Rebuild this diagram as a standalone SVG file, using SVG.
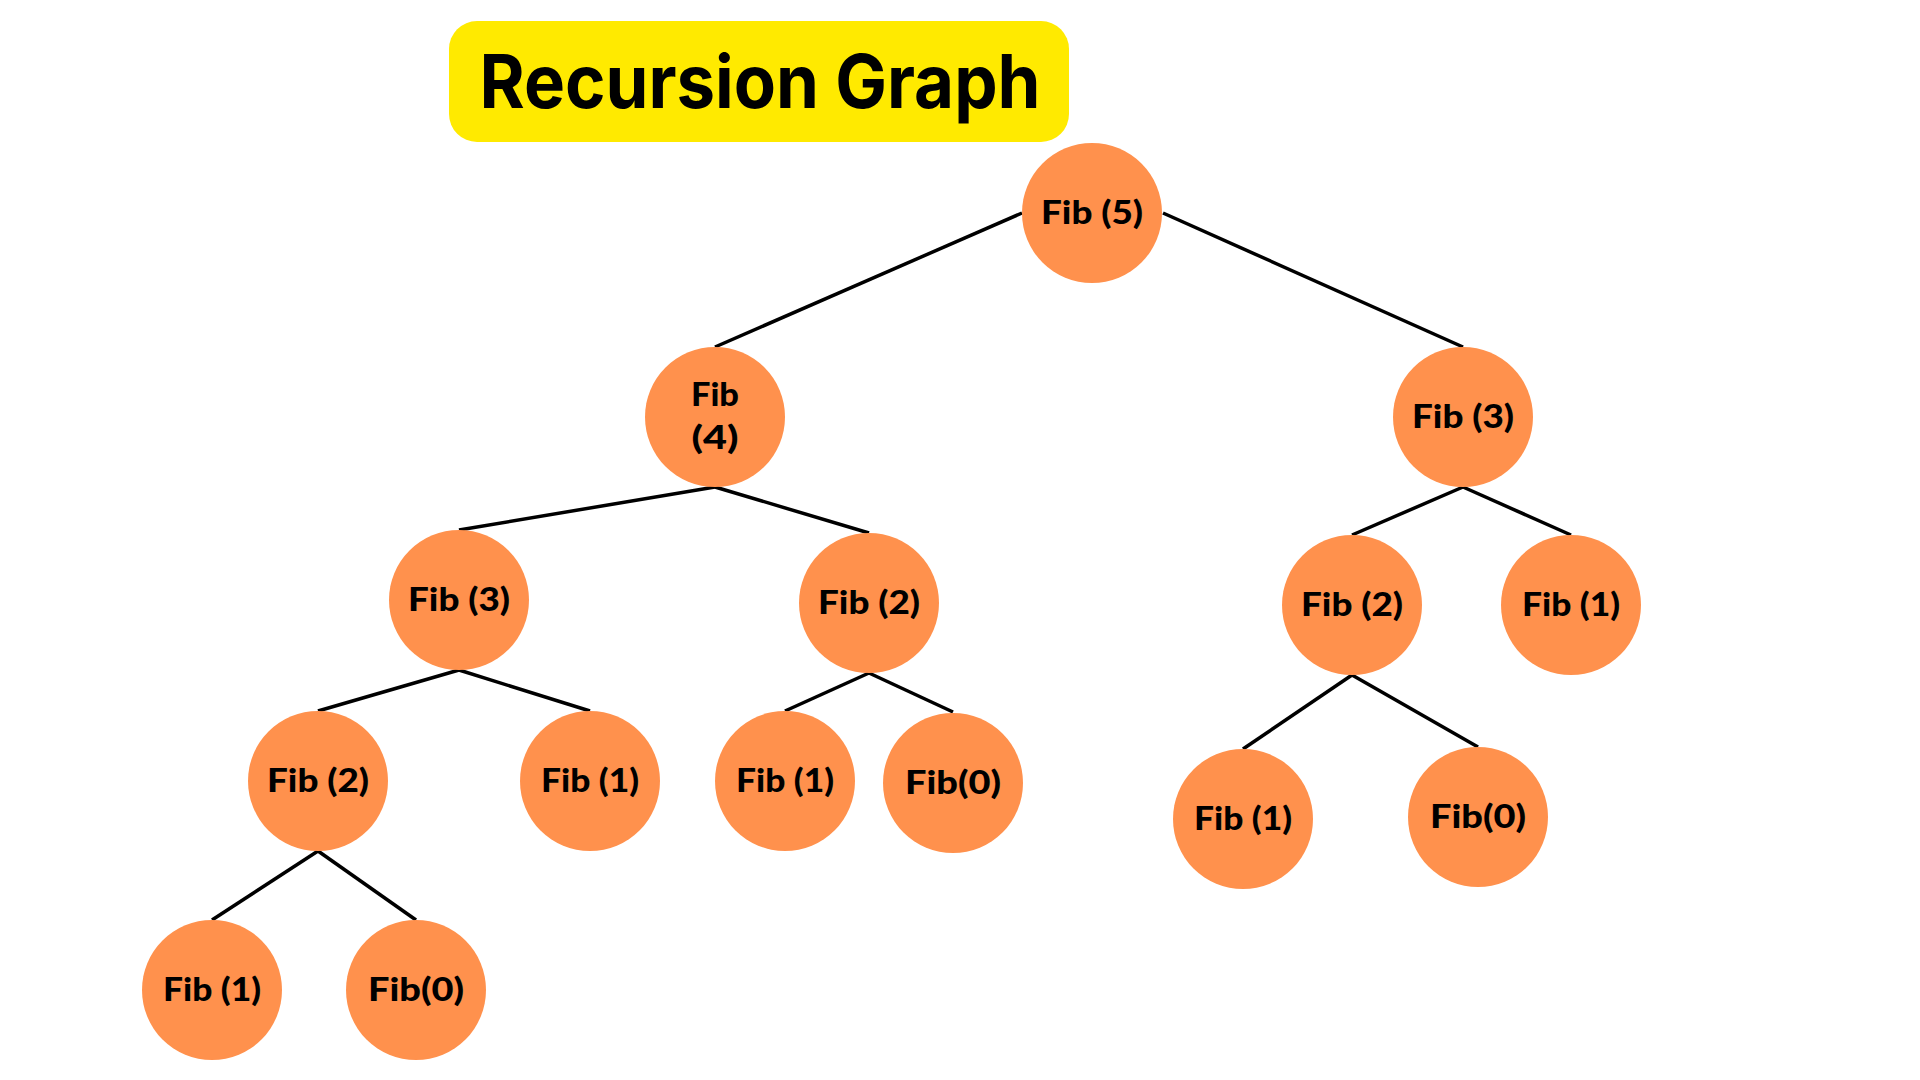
<svg xmlns="http://www.w3.org/2000/svg" width="1920" height="1080" viewBox="0 0 1920 1080">
<style>
.node circle{fill:#FF914D;}
.node text{font-family:Lato,"Noto Sans",sans-serif;font-weight:900;font-size:33px;fill:#000;text-anchor:middle;}
.edges line{stroke:#000;stroke-width:3.5;stroke-linecap:butt;}
.title{font-family:Inter,"Liberation Sans",sans-serif;font-weight:700;font-size:74px;fill:#000;text-anchor:middle;}
</style>
<rect width="1920" height="1080" fill="#fff"/>
<g id="title">
<rect x="449" y="21" width="620" height="121" rx="28" fill="#FFEA00"/>
<text class="title" x="760" y="108" textLength="561" lengthAdjust="spacingAndGlyphs">Recursion Graph</text>
</g>
<g id="edges" class="edges">
<line x1="1022" y1="213" x2="715" y2="347"/>
<line x1="1163" y1="213" x2="1463" y2="347"/>
<line x1="715" y1="487" x2="459" y2="530"/>
<line x1="715" y1="487" x2="869" y2="533"/>
<line x1="459" y1="670" x2="318" y2="711"/>
<line x1="459" y1="670" x2="590" y2="711"/>
<line x1="869" y1="673" x2="785" y2="711"/>
<line x1="869" y1="673" x2="953" y2="712"/>
<line x1="318" y1="851" x2="212" y2="920"/>
<line x1="318" y1="851" x2="416" y2="920"/>
<line x1="1463" y1="487" x2="1352" y2="535"/>
<line x1="1463" y1="487" x2="1571" y2="535"/>
<line x1="1352" y1="675" x2="1243" y2="749"/>
<line x1="1352" y1="675" x2="1478" y2="747"/>
</g>
<g id="fib5" class="node"><circle cx="1092" cy="213" r="70"/><text x="1092" y="224" textLength="102" lengthAdjust="spacingAndGlyphs">Fib (5)</text></g>
<g id="fib4" class="node"><circle cx="715" cy="417" r="70"/><text x="715" y="406" textLength="48" lengthAdjust="spacingAndGlyphs">Fib</text><text x="715" y="449" textLength="47" lengthAdjust="spacingAndGlyphs">(4)</text></g>
<g id="fib3r" class="node"><circle cx="1463" cy="417" r="70"/><text x="1463" y="428" textLength="102" lengthAdjust="spacingAndGlyphs">Fib (3)</text></g>
<g id="fib3l" class="node"><circle cx="459" cy="600" r="70"/><text x="459" y="611" textLength="102" lengthAdjust="spacingAndGlyphs">Fib (3)</text></g>
<g id="fib2m" class="node"><circle cx="869" cy="603" r="70"/><text x="869" y="614" textLength="102" lengthAdjust="spacingAndGlyphs">Fib (2)</text></g>
<g id="fib2r" class="node"><circle cx="1352" cy="605" r="70"/><text x="1352" y="616" textLength="102" lengthAdjust="spacingAndGlyphs">Fib (2)</text></g>
<g id="fib1r" class="node"><circle cx="1571" cy="605" r="70"/><text x="1571" y="616" textLength="98" lengthAdjust="spacingAndGlyphs">Fib (1)</text></g>
<g id="fib2l" class="node"><circle cx="318" cy="781" r="70"/><text x="318" y="792" textLength="102" lengthAdjust="spacingAndGlyphs">Fib (2)</text></g>
<g id="fib1a" class="node"><circle cx="590" cy="781" r="70"/><text x="590" y="792" textLength="98" lengthAdjust="spacingAndGlyphs">Fib (1)</text></g>
<g id="fib1b" class="node"><circle cx="785" cy="781" r="70"/><text x="785" y="792" textLength="98" lengthAdjust="spacingAndGlyphs">Fib (1)</text></g>
<g id="fib0a" class="node"><circle cx="953" cy="783" r="70"/><text x="953" y="794" textLength="96" lengthAdjust="spacingAndGlyphs">Fib(0)</text></g>
<g id="fib1c" class="node"><circle cx="1243" cy="819" r="70"/><text x="1243" y="830" textLength="98" lengthAdjust="spacingAndGlyphs">Fib (1)</text></g>
<g id="fib0b" class="node"><circle cx="1478" cy="817" r="70"/><text x="1478" y="828" textLength="96" lengthAdjust="spacingAndGlyphs">Fib(0)</text></g>
<g id="fib1d" class="node"><circle cx="212" cy="990" r="70"/><text x="212" y="1001" textLength="98" lengthAdjust="spacingAndGlyphs">Fib (1)</text></g>
<g id="fib0c" class="node"><circle cx="416" cy="990" r="70"/><text x="416" y="1001" textLength="96" lengthAdjust="spacingAndGlyphs">Fib(0)</text></g>
</svg>
